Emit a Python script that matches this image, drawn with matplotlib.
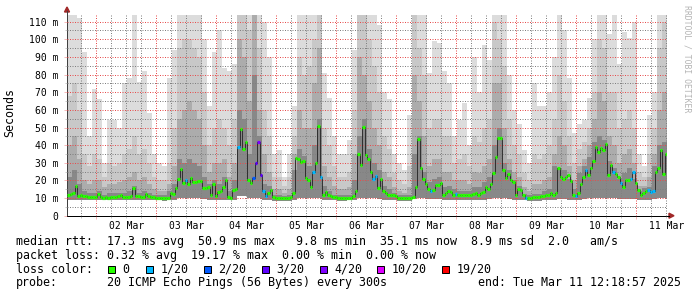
import numpy as np
import matplotlib
matplotlib.use('Agg')
import matplotlib.pyplot as plt
import matplotlib.dates as mdates
from matplotlib.ticker import MultipleLocator, FuncFormatter, NullFormatter
from matplotlib.patches import Rectangle, Polygon
from datetime import datetime, timedelta

# ---------------- data ----------------
t_start = datetime(2025, 3, 1, 12, 18, 57)
t_end = datetime(2025, 3, 11, 12, 18, 57)

# hourly median RTT (ms), 240 points
median_ms = [
    11.7, 12.5, 13.0, 16.8, 11.2, 11.5, 11.0, 11.0, 10.8, 10.5,
    10.5, 10.8, 12.3, 10.5, 10.3, 10.5, 10.3, 10.5, 10.8, 10.5,
    11.0, 11.7, 10.5, 10.5, 10.8, 11.0, 15.5, 11.0, 11.0, 10.8,
    10.5, 12.3, 11.0, 10.8, 10.5, 10.3, 10.0, 10.0, 9.8, 9.8,
    10.0, 13.0, 12.5, 15.8, 21.0, 26.7, 18.5, 20.0, 18.0, 21.5,
    19.0, 19.0, 19.5, 19.5, 15.5, 15.5, 16.5, 11.5, 17.8, 11.0,
    13.5, 14.0, 16.0, 20.0, 10.5, 10.0, 14.5, 15.0, 39.0, 49.0,
    38.0, 42.0, 20.0, 18.5, 21.5, 29.7, 41.5, 23.0, 14.0, 11.0,
    13.0, 14.5, 10.5, 10.3, 10.0, 10.0, 9.8, 10.0, 10.0, 10.5,
    13.0, 32.7, 32.0, 30.3, 31.0, 21.5, 20.5, 16.0, 24.5, 30.0,
    50.9, 22.0, 12.0, 13.5, 12.0, 11.0, 10.5, 10.5, 10.3, 10.0,
    10.0, 10.0, 10.3, 10.0, 11.0, 14.0, 34.8, 29.0, 50.5, 34.5,
    32.0, 24.5, 20.7, 22.7, 15.5, 21.0, 14.0, 13.0, 11.5, 11.5,
    12.0, 11.0, 10.0, 10.0, 10.0, 10.0, 10.0, 10.3, 10.5, 16.5,
    43.5, 27.0, 20.7, 18.0, 15.0, 14.0, 14.5, 17.5, 17.5, 18.5,
    12.0, 13.0, 14.0, 13.5, 12.0, 12.5, 12.0, 11.5, 12.0, 12.0,
    11.5, 12.0, 12.5, 13.0, 12.0, 13.0, 13.5, 16.0, 15.0, 18.0,
    24.0, 33.0, 44.0, 44.0, 25.7, 21.5, 23.5, 20.0, 19.0, 11.5,
    15.0, 14.5, 11.5, 10.0, 10.0, 10.0, 10.5, 10.5, 10.5, 11.0,
    11.0, 11.5, 11.5, 13.0, 12.0, 13.0, 27.0, 22.0, 21.0, 22.0,
    23.0, 19.7, 11.5, 11.0, 13.0, 18.0, 22.0, 26.0, 23.0, 27.0,
    31.0, 39.0, 36.0, 38.5, 37.0, 40.5, 23.2, 28.8, 25.0, 23.5,
    22.0, 18.5, 16.3, 20.5, 20.0, 20.7, 24.5, 18.8, 14.6, 11.5,
    13.0, 14.0, 14.5, 13.5, 14.0, 24.5, 27.0, 37.5, 23.5, 35.1,
]

# hours with packet loss (index into median_ms) and lost pings out of 20
loss_hours = [47, 68, 74, 75, 76, 77, 78, 79, 98, 101, 122, 123, 145, 155,
              183, 203, 207, 218, 221, 225, 226, 232, 233, 234]
loss_counts = [1, 1, 2, 3, 4, 3, 1, 1, 1, 1, 1, 1, 1, 1,
               1, 1, 1, 1, 1, 1, 1, 1, 1, 1]

# smoke (ping distribution) in 2-hour bins, 120 bins
smoke_max = [
    114, 114, 112, 93, 45, 72, 66, 30, 54, 54, 50, 75, 78, 114, 76, 82, 58, 35, 30, 28,
    78, 94, 114, 114, 114, 114, 114, 100, 62, 93, 105, 84, 82, 86, 114, 114, 114, 114, 114, 110,
    90, 35, 37, 22, 35, 62, 114, 114, 114, 114, 114, 81, 67, 45, 35, 35, 43, 94, 114, 114,
    114, 114, 108, 70, 66, 35, 30, 26, 57, 114, 114, 114, 81, 99, 98, 82, 75, 45, 54, 64,
    40, 90, 70, 97, 88, 114, 114, 114, 80, 60, 52, 37, 30, 75, 62, 62, 70, 90, 114, 105,
    78, 47, 52, 54, 67, 100, 114, 114, 103, 114, 86, 104, 101, 110, 35, 28, 57, 70, 114, 114,
]
smoke_p90 = [
    68, 75, 60, 35, 28, 35, 32, 22, 30, 28, 30, 35, 38, 45, 35, 38, 30, 22, 20, 20,
    30, 50, 95, 100, 100, 95, 90, 70, 40, 50, 55, 50, 40, 55, 114, 114, 105, 114, 95, 60,
    45, 22, 22, 17, 22, 45, 90, 80, 85, 100, 114, 50, 40, 28, 22, 22, 25, 60, 114, 114,
    100, 85, 70, 45, 38, 24, 20, 18, 28, 114, 95, 80, 50, 55, 55, 45, 45, 30, 32, 35,
    28, 45, 42, 50, 55, 110, 100, 85, 55, 40, 35, 24, 20, 35, 32, 35, 40, 55, 80, 65,
    45, 30, 38, 42, 50, 70, 100, 95, 70, 70, 50, 55, 60, 50, 25, 22, 35, 50, 95, 110,
]
smoke_p75 = [
    40, 45, 32, 20, 18, 20, 20, 16, 18, 18, 19, 20, 22, 25, 20, 22, 18, 15, 14, 14,
    18, 28, 55, 60, 65, 60, 55, 40, 25, 30, 30, 32, 22, 30, 100, 90, 65, 114, 60, 35,
    25, 15, 15, 13, 15, 35, 60, 50, 50, 75, 95, 28, 22, 17, 15, 15, 16, 35, 90, 80,
    65, 50, 40, 25, 22, 16, 14, 13, 16, 80, 65, 45, 28, 32, 32, 25, 25, 20, 20, 20,
    18, 25, 24, 28, 32, 75, 75, 50, 32, 25, 22, 16, 14, 18, 18, 20, 22, 35, 45, 40,
    28, 20, 28, 32, 40, 55, 70, 65, 45, 40, 30, 35, 38, 30, 17, 17, 22, 35, 60, 70,
]
smoke_p60 = [
    22, 26, 18, 14, 13, 13, 14, 12, 13, 13, 13, 13, 14, 17, 13, 14, 13, 12, 11.5, 11.5,
    14, 18, 32, 30, 32, 30, 28, 22, 18, 20, 18, 22, 14, 20, 60, 55, 35, 80, 45, 18,
    17, 12, 12, 11, 12, 26, 38, 34, 28, 40, 55, 17, 14, 12, 12, 12, 12, 20, 45, 55,
    38, 30, 26, 17, 15, 13, 11.5, 11.5, 12, 35, 45, 25, 19, 21, 22, 16, 17, 15, 14, 14,
    14, 16, 16, 19, 22, 40, 50, 30, 26, 20, 17, 12.5, 11.5, 12.5, 12.5, 14, 15, 28, 27, 26,
    21, 15, 24, 28, 33, 42, 45, 43, 31, 27, 21, 24, 27, 21, 14, 15.5, 16, 28, 40, 42,
]
smoke_lo = [
    9, 9, 9, 9, 9, 9, 9, 9, 9, 9, 9, 9, 9, 9, 9, 9, 9, 9, 9, 8.5,
    9, 9, 10, 10, 10, 10, 10, 9.5, 9, 9, 9, 9, 9, 9, 11, 11, 10, 10, 10, 9,
    9, 8.5, 8.5, 8.5, 8.5, 9, 10, 10, 10, 10, 10, 9, 9, 9, 8.5, 8.5, 9, 9, 10, 10,
    10, 10, 9.5, 9, 9, 9, 8.5, 8.5, 8.5, 9.5, 10, 10, 9.5, 9.5, 9.5, 9, 9, 9, 9, 9,
    9, 9, 9, 9, 9.5, 10, 10, 10, 9.5, 9, 9, 9, 8.5, 8.5, 8.5, 9, 9, 9, 9.5, 9.5,
    9, 9, 9, 9.5, 10, 10, 10, 10, 10, 10, 9.5, 9.5, 9.5, 9.5, 9, 9, 9, 9.5, 10, 10,
]

loss_levels = [0, 1, 2, 3, 4, 10, 19]
loss_labels = ['0', '1/20', '2/20', '3/20', '4/20', '10/20', '19/20']
loss_colors = ['#26ff00', '#00b8ff', '#0059ff', '#5e00ff', '#7e00ff', '#dd00ff', '#ff0000']

legend_line1 = "median rtt:  17.3 ms avg  50.9 ms max   9.8 ms min  35.1 ms now  8.9 ms sd  2.0   am/s"
legend_line2 = "packet loss: 0.32 % avg  19.17 % max  0.00 % min  0.00 % now"
probe_text = "20 ICMP Echo Pings (56 Bytes) every 300s"
end_text = "end: Tue Mar 11 12:18:57 2025"

# ---------------- figure ----------------
W, H = 697, 297
fig = plt.figure(figsize=(W / 100, H / 100), dpi=100)
fig.patch.set_facecolor('white')
MONO = 'DejaVu Sans Mono'


def fx(px):
    return px / W


def fy(py):
    return 1 - py / H


ax_l, ax_r, ax_t, ax_b = 67, 667, 14.5, 215.7
ax = fig.add_axes([fx(ax_l), fy(ax_b), (ax_r - ax_l) / W, (ax_b - ax_t) / H])
ax.set_facecolor('white')

x_start = mdates.date2num(t_start)
x_end = mdates.date2num(t_end)
n_h = len(median_ms)
hour_edges = np.array([mdates.date2num(t_start + timedelta(hours=h)) for h in range(n_h + 1)])
n_b = len(smoke_max)
bin_edges = np.array([mdates.date2num(t_start + timedelta(hours=2 * b)) for b in range(n_b + 1)])


def ext(a):
    a = list(a)
    return np.array(a + [a[-1]], dtype=float)


lo = ext(smoke_lo)
layers = [(smoke_max, '#dcdcdc'), (smoke_p90, '#c8c8c8'), (smoke_p75, '#acacac'), (smoke_p60, '#888888')]
for vals, col in layers:
    ax.fill_between(bin_edges, lo, ext(vals), step='post', color=col, lw=0, zorder=1)

# median line
med = np.array(median_ms)
ax.step(hour_edges, ext(median_ms), where='post', color='#202020', lw=0.6, zorder=4)

loss_of_hour = np.zeros(n_h, dtype=int)
for h, c in zip(loss_hours, loss_counts):
    loss_of_hour[h] = c


def loss_color(c):
    col = loss_colors[0]
    for lvl, cc in zip(loss_levels, loss_colors):
        if c >= lvl:
            col = cc
    return col


cols = [loss_color(c) for c in loss_of_hour]
ax.hlines(med, hour_edges[:-1], hour_edges[1:], colors=cols, lw=2.3, zorder=5, capstyle='butt')

ax.set_xlim(x_start, x_end)
ax.set_ylim(0, 114.06)

# grid
major_col = (0.9, 0.3, 0.3, 0.38)
minor_col = (0.5, 0.5, 0.5, 0.42)
ax.xaxis.set_major_locator(mdates.DayLocator())
ax.xaxis.set_major_formatter(NullFormatter())
ax.xaxis.set_minor_locator(mdates.HourLocator(byhour=[6, 12, 18]))


def xfmt(v, pos):
    d = mdates.num2date(v)
    return d.strftime('%d %b') if d.hour == 12 else ''


ax.xaxis.set_minor_formatter(FuncFormatter(xfmt))
ax.yaxis.set_major_locator(MultipleLocator(10))
ax.yaxis.set_minor_locator(MultipleLocator(5))
ax.yaxis.set_major_formatter(FuncFormatter(lambda v, p: '0' if v == 0 else '%d m' % v))
ax.set_axisbelow(False)
ax.grid(True, which='major', color=major_col, linestyle=(0, (1, 1.5)), lw=0.72, zorder=3)
ax.grid(True, which='minor', color=minor_col, linestyle=(0, (1, 1.5)), lw=0.72, zorder=3)

ax.tick_params(axis='y', which='major', length=2.5, width=0.72, color=major_col, pad=3.6,
               labelsize=7, labelfontfamily=MONO)
ax.tick_params(axis='y', which='minor', length=1.5, width=0.72, color=minor_col)
ax.tick_params(axis='x', which='major', length=2.0, width=0.72, color=major_col)
ax.tick_params(axis='x', which='minor', length=1.5, width=0.72, color=minor_col, pad=2.0,
               labelsize=7, labelfontfamily=MONO)

for s in ['top', 'right']:
    ax.spines[s].set_visible(False)
ax.spines['left'].set_color('#404040')
ax.spines['left'].set_linewidth(0.72)
ax.spines['bottom'].set_color('#000000')
ax.spines['bottom'].set_linewidth(0.72)
ax.spines['left'].set_bounds(0, 114.06)

# axis arrows
arrow_col = '#a02828'
fig.add_artist(plt.Line2D([fx(67), fx(67)], [fy(14.5), fy(11)], color='#404040', lw=0.72,
                          transform=fig.transFigure))
fig.add_artist(Polygon([(fx(64.5), fy(12)), (fx(69.5), fy(12)), (fx(67), fy(7))],
                       closed=True, color=arrow_col, transform=fig.transFigure))
fig.add_artist(Polygon([(fx(669), fy(213.2)), (fx(669), fy(218.2)), (fx(674), fy(215.7))],
                       closed=True, color=arrow_col, transform=fig.transFigure))
fig.add_artist(plt.Line2D([fx(667), fx(669)], [fy(215.7), fy(215.7)], color='black', lw=0.72,
                          transform=fig.transFigure))

# axis title and watermark
fig.text(fx(10), fy(113), 'Seconds', rotation=90, ha='center', va='center', fontsize=8.4,
         family=MONO)
fig.text(fx(686.5), fy(5), 'RRDTOOL / TOBI OETIKER', rotation=270, ha='center', va='top',
         fontsize=5.9, family=MONO, color='#b4b4b4')

# legend
LS = 8.4
fig.text(fx(15.5), fy(241.7), legend_line1, ha='left', va='center', fontsize=LS, family=MONO)
fig.text(fx(15.5), fy(255.5), legend_line2, ha='left', va='center', fontsize=LS, family=MONO)
fig.text(fx(15.5), fy(269.2), 'loss color:', ha='left', va='center', fontsize=LS, family=MONO)
box_px = [108, 146, 203.5, 262, 319.5, 377, 442]
for bx, lab, col in zip(box_px, loss_labels, loss_colors):
    fig.add_artist(Rectangle((fx(bx), fy(273)), 7 / W, 7 / H, facecolor=col, edgecolor='black',
                             lw=0.72, transform=fig.transFigure))
    fig.text(fx(bx + 14.5), fy(269.2), lab, ha='left', va='center', fontsize=LS, family=MONO)
fig.text(fx(15.5), fy(282.8), 'probe:', ha='left', va='center', fontsize=LS, family=MONO)
fig.text(fx(107), fy(282.8), probe_text, ha='left', va='center', fontsize=LS, family=MONO)
fig.text(fx(478), fy(282.8), end_text, ha='left', va='center', fontsize=LS, family=MONO)

fig.savefig('out.png', dpi=100, facecolor='white')
